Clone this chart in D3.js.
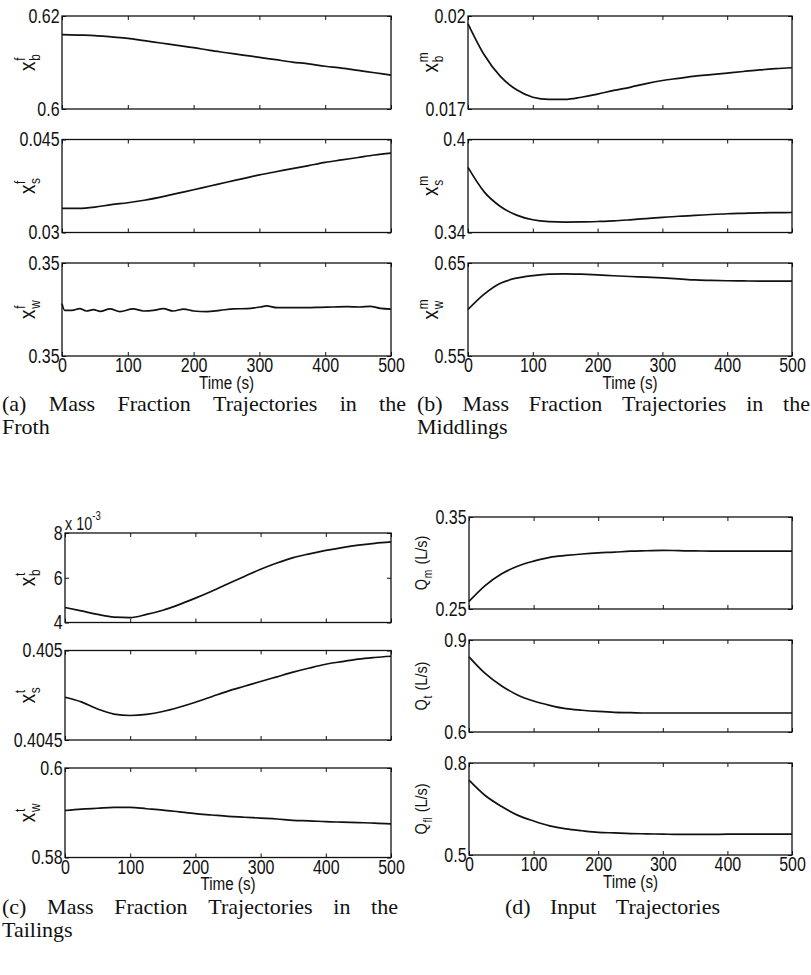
<!DOCTYPE html>
<html>
<head>
<meta charset="utf-8">
<script src="https://cdn.jsdelivr.net/npm/d3@7"></script>
<style>
  body { margin: 0; background: #fff; }
  svg text { fill: #111; }
  .tick text { font-family: "Liberation Sans", Arial, sans-serif; font-size: 20px; }
  .tick line { stroke: #111; stroke-width: 1; }
  .lab { font-family: "Liberation Sans", Arial, sans-serif; }
  .cap { font-family: "Liberation Serif", "Times New Roman", serif; font-size: 22px; }
</style>
</head>
<body>
<div id="chart"></div>
<script>
// sample times (s)
const time = [0, 25, 50, 75, 100, 125, 150, 175, 200, 225, 250, 275, 300, 325, 350, 375, 400, 425, 450, 475, 500];
const xTicks = [0, 100, 200, 300, 400, 500];

// (a) froth
const xbf = [0.6160, 0.6159, 0.6158, 0.6155, 0.6152, 0.6147, 0.6142, 0.6137, 0.6132, 0.6126, 0.6121, 0.6116, 0.6111, 0.6106, 0.6101, 0.6097, 0.6092, 0.6088, 0.6083, 0.6078, 0.6073];
const xsf = [0.0339, 0.0339, 0.0341, 0.0345, 0.0348, 0.0352, 0.0357, 0.0363, 0.0369, 0.0375, 0.0381, 0.0387, 0.0393, 0.0398, 0.0403, 0.0408, 0.0413, 0.0417, 0.0421, 0.0425, 0.0428];
const xwfTime = [0, 4, 15, 27, 37, 48, 58, 73, 88, 108, 124, 139, 154, 169, 185, 200, 220, 240, 261, 281, 301, 311, 327, 347, 372, 392, 413, 433, 453, 468, 484, 500];
const xwf = [0.350063, 0.349991, 0.349991, 0.350009, 0.349984, 0.349998, 0.349980, 0.350007, 0.349977, 0.350007, 0.349984, 0.349991, 0.350009, 0.349984, 0.350005, 0.349984, 0.349977, 0.349991, 0.350007, 0.350009, 0.350027, 0.350038, 0.350020, 0.350020, 0.350020, 0.350023, 0.350027, 0.350030, 0.350027, 0.350034, 0.350012, 0.350005];

// (b) middlings
const xbm = [0.01975, 0.01875, 0.01805, 0.01762, 0.01738, 0.01731, 0.01731, 0.01738, 0.01748, 0.01760, 0.01770, 0.01782, 0.01792, 0.01799, 0.01806, 0.01811, 0.01816, 0.01821, 0.01826, 0.01830, 0.01833];
const xsm = [0.382, 0.3662, 0.3568, 0.3512, 0.3482, 0.3470, 0.3467, 0.3468, 0.3471, 0.3475, 0.3482, 0.3490, 0.3498, 0.3505, 0.3510, 0.3516, 0.3521, 0.3524, 0.3527, 0.3528, 0.3529];
const xwm = [0.600, 0.6165, 0.6282, 0.6338, 0.6365, 0.6381, 0.6384, 0.6380, 0.6373, 0.6363, 0.6355, 0.6348, 0.6340, 0.6330, 0.6318, 0.6313, 0.6309, 0.6307, 0.6305, 0.6305, 0.6305];

// (c) tailings, xbt in units of 1e-3
const xbt = [4.67, 4.52, 4.36, 4.24, 4.22, 4.36, 4.55, 4.80, 5.09, 5.40, 5.73, 6.06, 6.38, 6.66, 6.90, 7.07, 7.22, 7.35, 7.46, 7.54, 7.60];
const xst = [0.404739, 0.404713, 0.404673, 0.404645, 0.404637, 0.404643, 0.404659, 0.404683, 0.404711, 0.404742, 0.404773, 0.404800, 0.404827, 0.404853, 0.404879, 0.404902, 0.404923, 0.404938, 0.404952, 0.404961, 0.404968];
const xwt = [0.5905, 0.5908, 0.5910, 0.5912, 0.5912, 0.5909, 0.5906, 0.5902, 0.5898, 0.5895, 0.5892, 0.5890, 0.5888, 0.5886, 0.5883, 0.5882, 0.5880, 0.5879, 0.5878, 0.5877, 0.5875];

// (d) inputs (L/s)
const qm = [0.2583, 0.2755, 0.2880, 0.2965, 0.3020, 0.3062, 0.3082, 0.3098, 0.3110, 0.3118, 0.3128, 0.3133, 0.3138, 0.3134, 0.3131, 0.3130, 0.3130, 0.3130, 0.3130, 0.3130, 0.3130];
const qt = [0.845, 0.791, 0.751, 0.721, 0.701, 0.687, 0.676, 0.671, 0.667, 0.664, 0.663, 0.662, 0.662, 0.662, 0.662, 0.662, 0.662, 0.662, 0.662, 0.662, 0.662];
const qfl = [0.744, 0.694, 0.659, 0.630, 0.611, 0.595, 0.585, 0.579, 0.574, 0.572, 0.570, 0.569, 0.568, 0.567, 0.567, 0.567, 0.568, 0.568, 0.568, 0.568, 0.568];

// y ticks and their printed labels
const ticksXbf = [0.6, 0.62],       labelsXbf = ["0.6", "0.62"];
const ticksXsf = [0.03, 0.045],     labelsXsf = ["0.03", "0.045"];
const ticksXwf = [0.3495, 0.3505],  labelsXwf = ["0.35", "0.35"];
const ticksXbm = [0.017, 0.02],     labelsXbm = ["0.017", "0.02"];
const ticksXsm = [0.34, 0.4],       labelsXsm = ["0.34", "0.4"];
const ticksXwm = [0.55, 0.65],      labelsXwm = ["0.55", "0.65"];
const ticksXbt = [4, 6, 8],         labelsXbt = ["4", "6", "8"];
const ticksXst = [0.4045, 0.405],   labelsXst = ["0.4045", "0.405"];
const ticksXwt = [0.58, 0.6],       labelsXwt = ["0.58", "0.6"];
const ticksQm = [0.25, 0.35],       labelsQm = ["0.25", "0.35"];
const ticksQt = [0.6, 0.9],         labelsQt = ["0.6", "0.9"];
const ticksQfl = [0.5, 0.8],        labelsQfl = ["0.5", "0.8"];

const width = 811, height = 975;
const narrow = 0.8; // squeeze Liberation Sans to look like the condensed print face

const svg = d3.select("#chart").append("svg")
    .attr("width", width)
    .attr("height", height);

// panel frames: left/right edge, top of first row, row height, gap
const panels = {
    a: { x0: 62,  x1: 391, top: 16,  h: 93,   gap: 30.5, lx: 35 },
    b: { x0: 468, x1: 792, top: 16,  h: 93,   gap: 30.5, lx: 438 },
    c: { x0: 65,  x1: 391, top: 533, h: 89.5, gap: 28,   lx: 35 },
    d: { x0: 469, x1: 792, top: 517, h: 92,   gap: 31,   lx: 427 }
};

const plots = [
    { p: "a", row: 0, t: time,    v: xbf, ticks: ticksXbf, labels: labelsXbf, lab: ["x", "f", "b"] },
    { p: "a", row: 1, t: time,    v: xsf, ticks: ticksXsf, labels: labelsXsf, lab: ["x", "f", "s"] },
    { p: "a", row: 2, t: xwfTime, v: xwf, ticks: ticksXwf, labels: labelsXwf, lab: ["x", "f", "w"] },
    { p: "b", row: 0, t: time,    v: xbm, ticks: ticksXbm, labels: labelsXbm, lab: ["x", "m", "b"] },
    { p: "b", row: 1, t: time,    v: xsm, ticks: ticksXsm, labels: labelsXsm, lab: ["x", "m", "s"] },
    { p: "b", row: 2, t: time,    v: xwm, ticks: ticksXwm, labels: labelsXwm, lab: ["x", "m", "w"] },
    { p: "c", row: 0, t: time,    v: xbt, ticks: ticksXbt, labels: labelsXbt, lab: ["x", "t", "b"] },
    { p: "c", row: 1, t: time,    v: xst, ticks: ticksXst, labels: labelsXst, lab: ["x", "t", "s"] },
    { p: "c", row: 2, t: time,    v: xwt, ticks: ticksXwt, labels: labelsXwt, lab: ["x", "t", "w"] },
    { p: "d", row: 0, t: time,    v: qm,  ticks: ticksQm,  labels: labelsQm,  q: "m" },
    { p: "d", row: 1, t: time,    v: qt,  ticks: ticksQt,  labels: labelsQt,  q: "t" },
    { p: "d", row: 2, t: time,    v: qfl, ticks: ticksQfl, labels: labelsQfl, q: "fl" }
];

const tick = 4;

plots.forEach(d => {
    const P = panels[d.p];
    const top = P.top + d.row * (P.h + P.gap);
    const bottom = top + P.h;
    const x = d3.scaleLinear().domain([0, 500]).range([P.x0, P.x1]);
    const y = d3.scaleLinear().domain([d.ticks[0], d.ticks[d.ticks.length - 1]]).range([bottom, top]);
    const g = svg.append("g");
    const last = d.row === 2;

    g.append("g").attr("transform", `translate(0,${bottom})`)
        .call(d3.axisBottom(x).tickValues(xTicks).tickSizeInner(-tick).tickSizeOuter(0).tickPadding(2)
            .tickFormat(last ? d3.format("d") : ""));
    g.append("g").attr("transform", `translate(0,${top})`)
        .call(d3.axisTop(x).tickValues(xTicks).tickSizeInner(-tick).tickSizeOuter(0).tickFormat(""));
    g.append("g").attr("transform", `translate(${P.x0},0)`)
        .call(d3.axisLeft(y).tickValues(d.ticks).tickSizeInner(-tick).tickSizeOuter(0).tickPadding(3)
            .tickFormat((v, i) => d.labels[i]));
    g.append("g").attr("transform", `translate(${P.x1},0)`)
        .call(d3.axisRight(y).tickValues(d.ticks).tickSizeInner(-tick).tickSizeOuter(0).tickFormat(""));
    g.selectAll(".domain").remove();
    g.selectAll(".tick text").attr("transform", `scale(${narrow},1)`);

    g.append("rect")
        .attr("x", P.x0).attr("y", top)
        .attr("width", P.x1 - P.x0).attr("height", P.h)
        .attr("fill", "none").attr("stroke", "#111").attr("stroke-width", 1.3);

    const line = d3.line()
        .x((v, i) => x(d.t[i]))
        .y(v => y(v))
        .curve(d3.curveMonotoneX);
    g.append("path")
        .attr("d", line(d.v))
        .attr("fill", "none")
        .attr("stroke", "#111")
        .attr("stroke-width", 1.7);

    // rotated y label
    const cy = (top + bottom) / 2;
    const lab = g.append("g").attr("transform", `translate(${P.lx},${cy}) rotate(-90) scale(${narrow + 0.05},1)`);
    const inner = lab.append("g");
    let w = 0;
    if (d.lab) {
        const main = inner.append("text").attr("class", "lab").style("font-size", "22px").text(d.lab[0]);
        w = main.node().getComputedTextLength() + 1;
        const sup = inner.append("text").attr("class", "lab").style("font-size", "14px")
            .attr("x", w).attr("y", -10).text(d.lab[1]);
        const sub = inner.append("text").attr("class", "lab").style("font-size", "14px")
            .attr("x", w).attr("y", 5).text(d.lab[2]);
        w += Math.max(sup.node().getComputedTextLength(), sub.node().getComputedTextLength());
    } else {
        const q = inner.append("text").attr("class", "lab").style("font-size", "17px").text("Q");
        w = q.node().getComputedTextLength() + 1;
        const sub = inner.append("text").attr("class", "lab").style("font-size", "12px")
            .attr("x", w).attr("y", 5).text(d.q);
        w += sub.node().getComputedTextLength() + 6;
        const rest = inner.append("text").attr("class", "lab").style("font-size", "17px")
            .attr("x", w).text("(L/s)");
        w += rest.node().getComputedTextLength();
    }
    inner.attr("transform", `translate(${-w / 2},0)`);

    if (last) {
        g.append("text").attr("class", "lab")
            .attr("x", (P.x0 + P.x1) / 2 / narrow).attr("y", bottom + 33)
            .attr("transform", `scale(${narrow},1)`)
            .attr("text-anchor", "middle")
            .style("font-size", "19px")
            .text("Time (s)");
    }
});

// exponent for x_b^t
const expo = svg.append("text").attr("class", "lab")
    .attr("x", panels.c.x0 / narrow).attr("y", 530)
    .attr("transform", `scale(${narrow},1)`)
    .style("font-size", "18px");
expo.append("tspan").text("x 10");
expo.append("tspan").attr("dy", -10).style("font-size", "12px").text("-3");

// captions, justified word by word
function justify(text, x0, x1, y) {
    const words = text.split(" ");
    const nodes = words.map(wd => svg.append("text").attr("class", "cap").attr("y", y).text(wd));
    const widths = nodes.map(n => n.node().getComputedTextLength());
    const gap = words.length > 1 ? (x1 - x0 - d3.sum(widths)) / (words.length - 1) : 0;
    let cx = x0;
    nodes.forEach((n, i) => { n.attr("x", cx); cx += widths[i] + gap; });
}
function plain(text, x0, y) {
    svg.append("text").attr("class", "cap").attr("x", x0).attr("y", y).text(text);
}

justify("(a) Mass Fraction Trajectories in the", 2, 406, 411);
plain("Froth", 2, 434);
justify("(b) Mass Fraction Trajectories in the", 417, 810, 411);
plain("Middlings", 417, 434);
justify("(c) Mass Fraction Trajectories in the", 2, 398, 914);
plain("Tailings", 2, 937);
justify("(d) Input Trajectories", 505, 720, 914);
</script>
</body>
</html>
